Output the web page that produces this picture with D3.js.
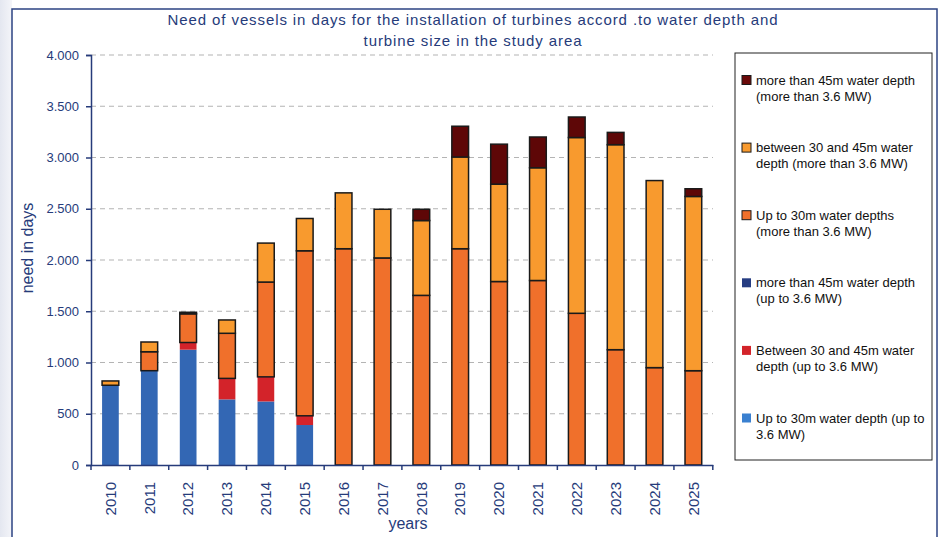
<!DOCTYPE html>
<html lang="en">
<head>
<meta charset="UTF-8">
<title>Need of vessels in days</title>
<script src="https://d3js.org/d3.v7.min.js"></script>
<style>
    body { margin: 0; background: #fff; font-family: "Liberation Sans", Arial, sans-serif; }
    svg { display: block; }
</style>
</head>
<body>
<svg width="944" height="537"></svg>
<script>
    // categories
    const years = ["2010", "2011", "2012", "2013", "2014", "2015", "2016", "2017",
        "2018", "2019", "2020", "2021", "2022", "2023", "2024", "2025"];

    // series, bottom of the stack first
    const upTo30Small   = [778, 920, 1125, 640, 620, 390, 0, 0, 0, 0, 0, 0, 0, 0, 0, 0];
    const mid30to45Small = [0, 0, 70, 205, 240, 90, 0, 0, 0, 0, 0, 0, 0, 0, 0, 0];
    const over45Small   = [0, 0, 0, 0, 0, 0, 0, 0, 0, 0, 0, 0, 0, 0, 0, 0];
    const upTo30Large   = [0, 185, 280, 440, 925, 1610, 2110, 2020, 1655, 2110, 1790, 1800, 1480, 1125, 950, 920];
    const mid30to45Large = [42, 95, 0, 130, 380, 315, 545, 475, 730, 895, 950, 1100, 1715, 2000, 1825, 1700];
    const over45Large   = [0, 0, 15, 0, 0, 0, 0, 0, 110, 300, 390, 300, 200, 120, 0, 75];

    const seriesNames = [
        ["Up to 30m water depth (up to", "3.6 MW)"],
        ["Between 30 and 45m water", "depth (up to 3.6 MW)"],
        ["more than 45m water depth", "(up to 3.6 MW)"],
        ["Up to 30m water depths", "(more than 3.6 MW)"],
        ["between 30 and 45m water", "depth (more than 3.6 MW)"],
        ["more than 45m water depth", "(more than 3.6 MW)"]
    ];
    const seriesValues = [upTo30Small, mid30to45Small, over45Small, upTo30Large, mid30to45Large, over45Large];
    const barColors = ["#3367b4", "#d3232a", "#263d82", "#f0702b", "#f89a2e", "#5e0707"];
    const legendColors = ["#3a80d0", "#d3232a", "#263d82", "#f0702b", "#f89a2e", "#6a0a0a"];
    const outlined = [false, false, false, true, true, true];

    const yTicks = [0, 500, 1000, 1500, 2000, 2500, 3000, 3500, 4000];
    const titleLines = ["Need of vessels in days for the installation of turbines accord .to water depth and",
        "turbine size in the study area"];

    const navy = "#263b7a";
    const svg = d3.select("svg");

    // faint page background outside the frame
    const grad = svg.append("defs").append("linearGradient").attr("id", "bg")
        .attr("x1", 0).attr("x2", 1).attr("y1", 0).attr("y2", 0);
    grad.append("stop").attr("offset", 0).attr("stop-color", "#e4e7f0");
    grad.append("stop").attr("offset", 1).attr("stop-color", "#f4f5f9");
    svg.append("rect").attr("x", 0).attr("y", 0).attr("width", 12).attr("height", 537).attr("fill", "url(#bg)");

    // chart frame
    svg.append("rect")
        .attr("x", 12).attr("y", 9).attr("width", 925).attr("height", 540)
        .attr("fill", "#fff").attr("stroke", "#2d4383").attr("stroke-width", 1.5);

    // scales
    const x = d3.scaleBand().domain(years).range([91, 712.8]).padding(0);
    const y = d3.scaleLinear().domain([0, 4000]).range([465, 55]);
    const barW = x.bandwidth() * 0.43;

    // grid lines
    svg.append("g").selectAll("line")
        .data(yTicks.filter(d => d > 0))
        .join("line")
        .attr("x1", 91).attr("x2", 713)
        .attr("y1", d => y(d)).attr("y2", d => y(d))
        .attr("stroke", "#b4b4b4").attr("stroke-width", 1.2)
        .attr("stroke-dasharray", "5,4");

    // stacked bars
    const stackData = years.map((yr, i) => {
        const row = {year: yr};
        seriesValues.forEach((s, k) => row["s" + k] = s[i]);
        return row;
    });
    const stacked = d3.stack().keys(seriesValues.map((s, k) => "s" + k))(stackData);

    stacked.forEach((layer, k) => {
        svg.append("g").selectAll("rect")
            .data(layer.filter(d => d[1] - d[0] > 0))
            .join("rect")
            .attr("x", d => x(d.data.year) + (x.bandwidth() - barW) / 2)
            .attr("width", barW)
            .attr("y", d => y(d[1]))
            .attr("height", d => y(d[0]) - y(d[1]))
            .attr("fill", barColors[k])
            .attr("stroke", outlined[k] ? "#1a1a1a" : "none")
            .attr("stroke-width", outlined[k] ? 1.5 : 0);
    });

    // y axis
    const locale = d3.formatLocale({decimal: ",", thousands: ".", grouping: [3], currency: ["", ""]});
    const yAxis = svg.append("g")
        .attr("transform", "translate(91,0)")
        .call(d3.axisLeft(y).tickValues(yTicks).tickSize(5).tickPadding(7).tickFormat(locale.format(",")));
    yAxis.select(".domain").attr("stroke", navy).attr("stroke-width", 1.5);
    yAxis.selectAll(".tick line").attr("stroke", navy).attr("stroke-width", 1.5);
    yAxis.selectAll("text").attr("fill", navy).attr("font-size", 13)
        .attr("font-family", "'Liberation Sans', Arial, sans-serif");

    // x axis
    const xAxis = svg.append("g")
        .attr("transform", "translate(0,465)")
        .call(d3.axisBottom(x).tickSize(0).tickPadding(0));
    xAxis.select(".domain").attr("stroke", navy).attr("stroke-width", 1.5);
    xAxis.selectAll(".tick text")
        .attr("fill", navy).attr("font-size", 15)
        .attr("font-family", "'Liberation Sans', Arial, sans-serif")
        .attr("text-anchor", "end")
        .attr("transform", "translate(0,17) rotate(-90)")
        .attr("x", 0).attr("y", 0).attr("dy", "0.35em");
    // boundary ticks
    svg.append("g").selectAll("line")
        .data(years.concat(["end"]))
        .join("line")
        .attr("x1", (d, i) => 91 + i * x.step()).attr("x2", (d, i) => 91 + i * x.step())
        .attr("y1", 465).attr("y2", 470)
        .attr("stroke", navy).attr("stroke-width", 1.5);

    // axis titles
    svg.append("text")
        .attr("transform", "translate(33,248) rotate(-90)")
        .attr("text-anchor", "middle")
        .attr("fill", navy).attr("font-size", 16)
        .text("need in days");
    svg.append("text")
        .attr("x", 408).attr("y", 529)
        .attr("text-anchor", "middle")
        .attr("fill", navy).attr("font-size", 16)
        .text("years");

    // chart title
    svg.append("g").selectAll("text")
        .data(titleLines)
        .join("text")
        .attr("x", 473).attr("y", (d, i) => 25 + i * 21)
        .attr("text-anchor", "middle")
        .attr("fill", navy).attr("font-size", 15)
        .attr("letter-spacing", 0.9)
        .text(d => d);

    // legend
    svg.append("rect")
        .attr("x", 735).attr("y", 53).attr("width", 197).attr("height", 407)
        .attr("fill", "#fff").attr("stroke", "#222").attr("stroke-width", 1);

    const legendOrder = [5, 4, 3, 2, 1, 0];
    const items = svg.append("g").selectAll("g")
        .data(legendOrder)
        .join("g")
        .attr("transform", (k, i) => `translate(742,${80 + i * 67.6})`);
    items.append("rect")
        .attr("x", 0).attr("y", -4.5).attr("width", 9).attr("height", 9)
        .attr("fill", k => legendColors[k])
        .attr("stroke", k => outlined[k] ? "#1a1a1a" : "none")
        .attr("stroke-width", 1);
    items.append("text")
        .attr("x", 14).attr("y", 4.5)
        .attr("fill", "#111").attr("font-size", 13)
        .selectAll("tspan")
        .data(k => seriesNames[k])
        .join("tspan")
        .attr("x", 14).attr("dy", (d, i) => i === 0 ? 0 : 16)
        .text(d => d);
</script>
</body>
</html>
